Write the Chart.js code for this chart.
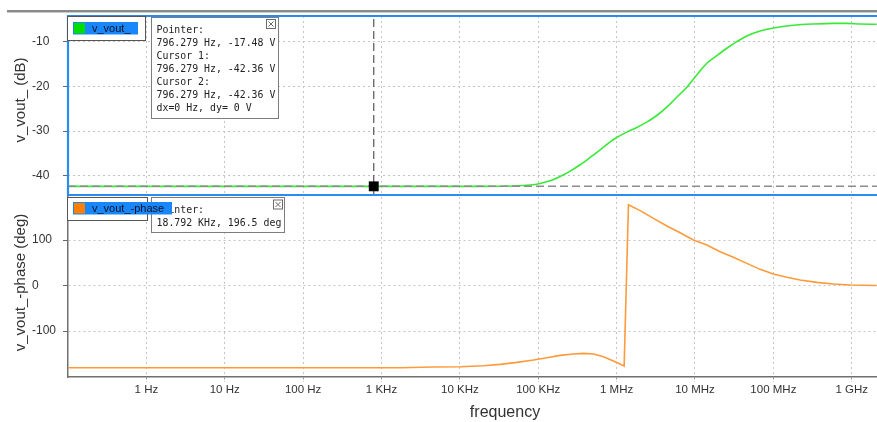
<!DOCTYPE html>
<html>
<head>
<meta charset="utf-8">
<script src="https://cdn.jsdelivr.net/npm/chart.js@4.4.1/dist/chart.umd.min.js"></script>
<style>
  html, body { margin: 0; padding: 0; background: #fff; width: 877px; height: 422px; overflow: hidden; }
  .panel { position: absolute; left: 0; }
  #gainWrap { top: 0; width: 877px; height: 197px; }
  #phaseWrap { top: 195px; width: 877px; height: 227px; }
  canvas { display: block; }
</style>
</head>
<body>
<div id="gainWrap" class="panel"><canvas id="gainCanvas" width="877" height="197"></canvas></div>
<div id="phaseWrap" class="panel"><canvas id="phaseCanvas" width="877" height="227"></canvas></div>
<script>
// ---- AC sweep of v_vout_ ----
const gainFreq = [0.1, 1e3, 1.8e4, 4.84e4, 7.89e4, 1.059e5, 1.42e5, 1.905e5, 2.554e5, 3.425e5,
  4.595e5, 6.162e5, 8.262e5, 1.006e6, 1.349e6, 1.81e6, 2.427e6, 3.255e6, 4.366e6, 5.855e6,
  7.852e6, 1.054e7, 1.414e7, 1.897e7, 2.545e7, 3.413e7, 4.577e7, 6.774e7, 1e8, 1.799e8,
  3.236e8, 5.83e8, 8.63e8, 1.276e9, 2.08e9];
const gainDb = [-42.36, -42.36, -42.36, -42.3, -42.08, -41.71, -41.11, -40.15, -38.95, -37.54,
  -35.90, -34.19, -32.40, -31.44, -30.24, -29.20, -28.01, -26.52, -24.66, -22.43,
  -20.19, -17.44, -14.83, -13.12, -11.48, -10.0, -8.73, -7.61, -6.94, -6.34,
  -6.05, -5.90, -5.90, -6.05, -6.12];

const phaseFreq = [0.1, 1734, 4613, 1.012e4, 2.004e4, 3.273e4, 5.346e4, 8.71e4, 1.288e5, 1.905e5,
  2.818e5, 3.776e5, 5.07e5, 6.792e5, 9.12e5, 1.247e6, 1.416e6, 1.995e6, 2.951e6, 4.375e6,
  6.457e6, 9.55e6, 1.416e7, 2.089e7, 3.09e7, 4.581e7, 6.776e7, 1e8, 1.483e8, 2.193e8,
  3.581e8, 5.834e8, 9.506e8, 2.084e9];
const phaseDeg = [-180.6, -180.6, -179.1, -178.4, -176.2, -173.3, -168.9, -163.7, -158.6, -153.5,
  -150.5, -149.1, -150.5, -156.4, -165.9, -176.9, 177.6, 164.5, 147.6, 130.8,
  116.1, 100, 89, 74.4, 61.9, 48.7, 35.5, 25.3, 18, 12.1,
  7, 3.3, 1.1, 0];

// ---- axes ----
const xTickValues = [1, 10, 100, 1e3, 1e4, 1e5, 1e6, 1e7, 1e8, 1e9];
const xTickLabels = ['1 Hz', '10 Hz', '100 Hz', '1 KHz', '10 KHz', '100 KHz', '1 MHz', '10 MHz', '100 MHz', '1 GHz'];
const gainTicks = [-40, -30, -20, -10];
const phaseTicks = [-100, 0, 100];
const freqMin = 0.1, freqMax = 2.1e9;

// ---- cursors and pointer readouts ----
const pointerFreqHz = 796.279, pointerDb = -17.48;
const cursor1 = [796.279, -42.36];
const cursor2 = [796.279, -42.36];
const phasePointerKHz = 18.792, phasePointerDeg = 196.5;

const gainReadout = [
  'Pointer:',
  `${pointerFreqHz.toFixed(3)} Hz, ${pointerDb.toFixed(2)} V`,
  'Cursor 1:',
  `${cursor1[0].toFixed(3)} Hz, ${cursor1[1].toFixed(2)} V`,
  'Cursor 2:',
  `${cursor2[0].toFixed(3)} Hz, ${cursor2[1].toFixed(2)} V`,
  `dx=${cursor2[0] - cursor1[0]} Hz, dy= ${cursor2[1] - cursor1[1]} V`
];
const phaseReadout = [
  'Pointer:',
  `${phasePointerKHz.toFixed(3)} KHz, ${phasePointerDeg.toFixed(1)} deg`
];

Chart.defaults.font.family = '"Liberation Sans", Arial, sans-serif';

const GRID = '#c4c4c4';
const TEXT = '#333';

function pts(xs, ys) { return xs.map((x, i) => ({ x: x, y: ys[i] })); }

function noScalePadding(s) {
  s.paddingTop = 0; s.paddingBottom = 0; s.paddingLeft = 0; s.paddingRight = 0;
}

function freqAxis(showLabels) {
  return {
    type: 'logarithmic',
    min: freqMin,
    max: freqMax,
    afterBuildTicks: s => { s.ticks = xTickValues.map(v => ({ value: v })); },
    afterFit: s => { s.height = showLabels ? 45 : 0; noScalePadding(s); },
    ticks: {
      display: showLabels,
      autoSkip: false,
      maxRotation: 0,
      color: TEXT,
      padding: 1,
      font: { size: 11.5 },
      callback: (v, i) => xTickLabels[i]
    },
    grid: {
      color: GRID,
      drawTicks: showLabels,
      tickLength: 5,
      tickColor: '#9a9a9a',
      tickBorderDash: [2, 2]
    },
    border: { display: showLabels, color: '#707070', width: 1.5, dash: [2, 3] }
  };
}

// value axis: labels start at the left edge of a 36px strip next to the plot
function valueAxis(ticks, min, max, showBorder) {
  return {
    min: min,
    max: max,
    afterBuildTicks: s => { s.ticks = ticks.map(v => ({ value: v })); },
    afterFit: s => { s.width = 36; noScalePadding(s); },
    ticks: { color: TEXT, padding: 8, crossAlign: 'far', font: { size: 12 } },
    grid: { color: GRID, tickLength: 5, tickColor: '#666', tickBorderDash: [] },
    border: { display: showBorder, color: '#707070', width: 1.5, dash: [2, 3] }
  };
}

// readout box with a close glyph
function drawReadout(ctx, r) {
  ctx.fillStyle = '#fff';
  ctx.fillRect(r.x, r.y, r.w, r.h);
  ctx.strokeStyle = '#7c7c7c';
  ctx.lineWidth = 1;
  ctx.strokeRect(r.x + 0.5, r.y + 0.5, r.w - 1, r.h - 1);
  ctx.fillStyle = '#222';
  ctx.font = '9.9px "DejaVu Sans Mono", monospace';
  ctx.textAlign = 'left';
  ctx.textBaseline = 'middle';
  r.lines.forEach((t, i) => ctx.fillText(t, r.x + 5.5, r.lineY + i * r.step));
  const ix = r.iconX, iy = r.iconY, s = 9;
  ctx.strokeStyle = '#6a6a6a';
  ctx.strokeRect(ix + 0.5, iy + 0.5, s, s);
  ctx.beginPath();
  ctx.moveTo(ix + 2.5, iy + 2.5); ctx.lineTo(ix + s - 1.5, iy + s - 1.5);
  ctx.moveTo(ix + s - 1.5, iy + 2.5); ctx.lineTo(ix + 2.5, iy + s - 1.5);
  ctx.stroke();
}

// highlighted series tag
function drawTag(ctx, g, label) {
  ctx.fillStyle = '#fff';
  ctx.fillRect(g.x, g.y, g.w, g.h);
  ctx.strokeStyle = '#555';
  ctx.lineWidth = 1;
  ctx.strokeRect(g.x + 0.5, g.y + 0.5, g.w - 1, g.h - 1);
  ctx.fillStyle = '#1787fb';
  ctx.fillRect(g.bx, g.by, g.bw, g.bh);
  ctx.fillStyle = g.swatch;
  ctx.fillRect(g.bx + 1, g.by + 1, 11, g.bh - 2);
  ctx.fillStyle = '#101020';
  ctx.font = '11px "Liberation Sans", Arial, sans-serif';
  ctx.textAlign = 'left';
  ctx.textBaseline = 'middle';
  ctx.fillText(label, g.bx + 19, g.by + g.bh / 2 + 0.5);
}

const panelDecor = {
  id: 'panelDecor',
  afterDraw(chart, args, o) {
    const ctx = chart.ctx;
    const a = chart.chartArea;
    ctx.save();
    if (o.topBar) {
      ctx.fillStyle = '#8a8a8a';
      ctx.fillRect(7, 10, 870, 2);
      ctx.fillStyle = '#cacaca';
      ctx.fillRect(7, 12, 870, 1);
    }
    if (o.frame) {
      ctx.strokeStyle = '#2a8cf2';
      ctx.lineWidth = 2.2;
      ctx.beginPath();
      ctx.moveTo(a.right + 2, a.top); ctx.lineTo(a.left, a.top);
      ctx.lineTo(a.left, a.bottom); ctx.lineTo(a.right + 2, a.bottom);
      ctx.stroke();
    }
    ctx.translate(0, -o.offsetY);
    drawReadout(ctx, o.readout);
    drawTag(ctx, o.tag, chart.data.datasets[0].label);
    ctx.fillStyle = TEXT;
    ctx.font = '15px "Liberation Sans", Arial, sans-serif';
    ctx.textAlign = 'center';
    ctx.textBaseline = 'alphabetic';
    ctx.save();
    ctx.translate(25, o.yTitle.cy);
    ctx.rotate(-Math.PI / 2);
    ctx.fillText(o.yTitle.text, 0, 0);
    ctx.restore();
    if (o.xTitle) {
      ctx.font = '16px "Liberation Sans", Arial, sans-serif';
      ctx.fillText(o.xTitle.text, o.xTitle.cx, o.xTitle.baseline);
    }
    ctx.restore();
  }
};

const common = {
  responsive: false,
  animation: false,
  events: []
};

new Chart(document.getElementById('gainCanvas'), {
  type: 'line',
  data: {
    datasets: [
      { label: 'v_vout_', data: pts(gainFreq, gainDb), borderColor: '#36ea36', borderWidth: 1.6,
        pointRadius: 0, cubicInterpolationMode: 'monotone', order: 3 },
      { label: 'cursor level', data: pts([freqMin, freqMax], [cursor1[1], cursor1[1]]),
        borderColor: '#8c8c8c', borderWidth: 1.5, borderDash: [8, 4], pointRadius: 0, order: 2 },
      { label: 'cursor frequency', data: pts([cursor1[0], cursor1[0]], [-44.3, -4.26]),
        borderColor: '#555', borderWidth: 1.2, borderDash: [8, 4], pointRadius: 0, order: 1 },
      { type: 'scatter', label: 'cursor point', data: pts([cursor1[0]], [cursor1[1]]),
        backgroundColor: '#000', borderWidth: 0, pointStyle: 'rect', pointRadius: 7, order: 0 }
    ]
  },
  options: Object.assign({}, common, {
    layout: { autoPadding: false, padding: { top: 16, bottom: 2, left: 32, right: 0 } },
    scales: {
      x: freqAxis(false),
      y: valueAxis(gainTicks, -44.3, -4.26, false)
    },
    plugins: {
      legend: { display: false },
      tooltip: { enabled: false },
      panelDecor: {
        offsetY: 0,
        topBar: true,
        frame: true,
        readout: { x: 151, y: 17, w: 128, h: 102, lines: gainReadout, lineY: 30, step: 13.05, iconX: 266, iconY: 19 },
        tag: { x: 67, y: 16, w: 79, h: 25, bx: 73, by: 22, bw: 65, bh: 12.5, swatch: '#00df00' },
        yTitle: { text: 'v_vout_ (dB)', cy: 100 }
      }
    }
  }),
  plugins: [panelDecor]
});

new Chart(document.getElementById('phaseCanvas'), {
  type: 'line',
  data: {
    datasets: [
      { label: 'v_vout_-phase', data: pts(phaseFreq, phaseDeg), borderColor: '#ff9a3a', borderWidth: 1.6,
        pointRadius: 0, tension: 0 }
    ]
  },
  options: Object.assign({}, common, {
    layout: { autoPadding: false, padding: { top: 2, bottom: 0, left: 32, right: 0 } },
    scales: {
      x: freqAxis(true),
      y: valueAxis(phaseTicks, -201, 194.5, true)
    },
    plugins: {
      legend: { display: false },
      tooltip: { enabled: false },
      panelDecor: {
        offsetY: 195,
        readout: { x: 151, y: 197, w: 134, h: 36, lines: phaseReadout, lineY: 210, step: 13, iconX: 273, iconY: 199.5 },
        tag: { x: 67, y: 197, w: 81, h: 24, bx: 73, by: 202, bw: 99, bh: 12.5, swatch: '#ff8000' },
        yTitle: { text: 'v_vout_-phase (deg)', cy: 282.5 },
        xTitle: { text: 'frequency', cx: 505, baseline: 417 }
      }
    }
  }),
  plugins: [panelDecor]
});
</script>
</body>
</html>
